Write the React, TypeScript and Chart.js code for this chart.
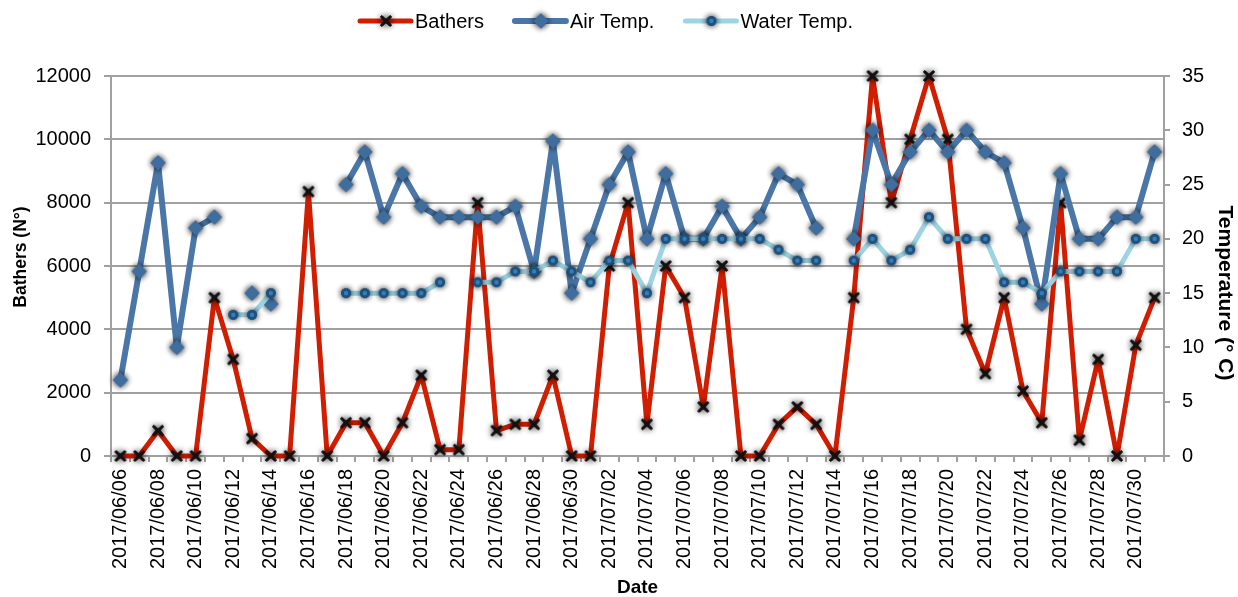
import React, { useEffect, useRef } from 'react';
import { Chart, registerables } from 'chart.js';

Chart.register(...registerables);

const dates = [
  '2017/06/06', '2017/06/07', '2017/06/08', '2017/06/09', '2017/06/10', '2017/06/11', '2017/06/12',
  '2017/06/13', '2017/06/14', '2017/06/15', '2017/06/16', '2017/06/17', '2017/06/18', '2017/06/19',
  '2017/06/20', '2017/06/21', '2017/06/22', '2017/06/23', '2017/06/24', '2017/06/25', '2017/06/26',
  '2017/06/27', '2017/06/28', '2017/06/29', '2017/06/30', '2017/07/01', '2017/07/02', '2017/07/03',
  '2017/07/04', '2017/07/05', '2017/07/06', '2017/07/07', '2017/07/08', '2017/07/09', '2017/07/10',
  '2017/07/11', '2017/07/12', '2017/07/13', '2017/07/14', '2017/07/15', '2017/07/16', '2017/07/17',
  '2017/07/18', '2017/07/19', '2017/07/20', '2017/07/21', '2017/07/22', '2017/07/23', '2017/07/24',
  '2017/07/25', '2017/07/26', '2017/07/27', '2017/07/28', '2017/07/29', '2017/07/30', '2017/07/31',
];

const bathers = [
  0, 0, 800, 0, 0, 5000, 3050, 550, 0, 0, 8350, 0, 1050, 1050,
  0, 1050, 2550, 200, 200, 8000, 800, 1000, 1000, 2550, 0, 0, 6000, 8000,
  1000, 6000, 5000, 1550, 6000, 0, 0, 1000, 1550, 1000, 0, 5000, 12000, 8000,
  10000, 12000, 10000, 4000, 2600, 5000, 2050, 1050, 8000, 500, 3050, 0, 3500, 5000,
];

const airTemp = [
  7, 17, 27, 10, 21, 22, null, 15, 14, null, null, null, 25, 28,
  22, 26, 23, 22, 22, 22, 22, 23, 17, 29, 15, 20, 25, 28,
  20, 26, 20, 20, 23, 20, 22, 26, 25, 21, null, 20, 30, 25,
  28, 30, 28, 30, 28, 27, 21, 14, 26, 20, 20, 22, 22, 28,
];
// air readings that are not joined to the next day's reading
const airUnlinkedFrom = [7];

const waterTemp = [
  null, null, null, null, null, null, 13, 13, 15, null, null, null, 15, 15,
  15, 15, 15, 16, null, 16, 16, 17, 17, 18, 17, 16, 18, 18,
  15, 20, 20, 20, 20, 20, 20, 19, 18, 18, null, 18, 20, 18,
  19, 22, 20, 20, 20, 16, 16, 15, 17, 17, 17, 17, 20, 20,
];

const bathersTicks = { min: 0, max: 12000, step: 2000 };
const tempTicks = { min: 0, max: 35, step: 5 };

const FONT = '"Liberation Sans", Arial, Helvetica, sans-serif';
const GRID = '#a0a0a0';
const RED = '#d11d00';
const AIR = '#4a77a8';
const WATER = '#9dd3e3';

function makeMarker(kind: 'cross' | 'diamond' | 'circle'): HTMLCanvasElement {
  const s = 28;
  const c = document.createElement('canvas');
  c.width = s;
  c.height = s;
  const g = c.getContext('2d')!;
  const m = s / 2;
  const paint = () => {
    if (kind === 'cross') {
      g.strokeStyle = '#111';
      g.lineWidth = 2.6;
      g.lineCap = 'round';
      g.beginPath();
      g.moveTo(m - 4.2, m - 4.2);
      g.lineTo(m + 4.2, m + 4.2);
      g.moveTo(m + 4.2, m - 4.2);
      g.lineTo(m - 4.2, m + 4.2);
      g.stroke();
    } else if (kind === 'diamond') {
      g.fillStyle = '#3f6d9e';
      g.beginPath();
      g.moveTo(m, m - 7.5);
      g.lineTo(m + 7.5, m);
      g.lineTo(m, m + 7.5);
      g.lineTo(m - 7.5, m);
      g.closePath();
      g.fill();
    } else {
      g.fillStyle = '#1c507f';
      g.beginPath();
      g.arc(m, m, 4.8, 0, Math.PI * 2);
      g.fill();
    }
  };
  g.shadowColor = 'rgba(0,0,0,0.6)';
  g.shadowBlur = 6;
  paint();
  paint();
  g.shadowBlur = 0;
  g.shadowColor = 'transparent';
  paint();
  if (kind === 'circle') {
    g.fillStyle = '#3a7fb4';
    g.beginPath();
    g.arc(m, m, 2.2, 0, Math.PI * 2);
    g.fill();
  }
  return c;
}

const legendPlugin = {
  id: 'lineLegend',
  afterDraw(chart: any) {
    const ctx = chart.ctx as CanvasRenderingContext2D;
    ctx.save();
    ctx.font = `20px ${FONT}`;
    let x = 360;
    const y = 21;
    chart.data.datasets.forEach((ds: any) => {
      ctx.strokeStyle = ds.borderColor;
      ctx.lineWidth = ds.borderWidth;
      ctx.lineCap = 'round';
      ctx.beginPath();
      ctx.moveTo(x, y);
      ctx.lineTo(x + 51, y);
      ctx.stroke();
      const img = ds.pointStyle as HTMLCanvasElement;
      ctx.drawImage(img, x + 26 - img.width / 2, y - img.height / 2);
      ctx.fillStyle = '#000';
      ctx.textAlign = 'left';
      ctx.textBaseline = 'middle';
      ctx.fillText(ds.label, x + 55, y + 1);
      x += 55 + ctx.measureText(ds.label).width + 31;
    });
    ctx.restore();
  },
};

const titlePlugin = {
  id: 'axisTitles',
  afterDraw(chart: any) {
    const ctx = chart.ctx as CanvasRenderingContext2D;
    const area = chart.chartArea;
    ctx.save();
    ctx.fillStyle = '#000';
    ctx.textAlign = 'center';
    ctx.textBaseline = 'middle';

    ctx.font = `bold 19px ${FONT}`;
    ctx.fillText('Date', (area.left + area.right) / 2, 588);

    ctx.save();
    ctx.translate(21, 257);
    ctx.rotate(-Math.PI / 2);
    ctx.font = `bold 17.5px ${FONT}`;
    ctx.fillText('Bathers (N°)', 0, 0);
    ctx.restore();

    ctx.save();
    ctx.translate(1225, 293);
    ctx.rotate(Math.PI / 2);
    ctx.font = `bold 21px ${FONT}`;
    ctx.fillText('Temperature (° C)', 0, 0);
    ctx.restore();

    ctx.restore();
  },
};

export default function App() {
  const ref = useRef<HTMLCanvasElement | null>(null);

  useEffect(() => {
    if (!ref.current) return;
    Chart.defaults.font.family = FONT;
    const crossImg = makeMarker('cross');
    const diamondImg = makeMarker('diamond');
    const circleImg = makeMarker('circle');

    const chart = new Chart(ref.current, {
      type: 'line',
      data: {
        labels: dates,
        datasets: [
          {
            label: 'Bathers',
            data: bathers,
            yAxisID: 'y',
            borderColor: RED,
            backgroundColor: RED,
            borderWidth: 5,
            pointStyle: crossImg as any,
            pointRadius: 5,
            tension: 0,
            clip: false as any,
            order: 3,
            borderJoinStyle: 'round',
            borderCapStyle: 'round',
          },
          {
            label: 'Air Temp.',
            data: airTemp,
            yAxisID: 'y1',
            borderColor: AIR,
            backgroundColor: AIR,
            borderWidth: 6,
            pointStyle: diamondImg as any,
            pointRadius: 5,
            tension: 0,
            spanGaps: false,
            clip: false as any,
            order: 2,
            borderJoinStyle: 'round',
            borderCapStyle: 'round',
            segment: {
              borderColor: (c: any) => (airUnlinkedFrom.includes(c.p0DataIndex) ? 'rgba(0,0,0,0)' : undefined),
            },
          },
          {
            label: 'Water Temp.',
            data: waterTemp,
            yAxisID: 'y1',
            borderColor: WATER,
            backgroundColor: WATER,
            borderWidth: 5,
            pointStyle: circleImg as any,
            pointRadius: 5,
            tension: 0,
            spanGaps: false,
            clip: false as any,
            order: 1,
            borderJoinStyle: 'round',
            borderCapStyle: 'round',
          },
        ],
      },
      options: {
        responsive: true,
        maintainAspectRatio: false,
        animation: false,
        layout: { padding: { top: 76, left: 0, right: 0, bottom: 0 } },
        plugins: {
          legend: { display: false },
          tooltip: { enabled: false },
        },
        scales: {
          x: {
            type: 'category',
            offset: true,
            grid: { display: true, drawOnChartArea: false, color: GRID, lineWidth: 2, tickLength: 6, offset: true },
            border: { display: true, color: GRID, width: 2 },
            ticks: {
              autoSkip: false,
              minRotation: 90,
              maxRotation: 90,
              padding: 7,
              color: '#000',
              font: { size: 20, family: FONT },
              callback: (_v: any, i: number) => (i % 2 === 0 ? dates[i] : ''),
            },
            title: { display: false },
            afterFit: (s: any) => {
              s.height = 141;
            },
          },
          y: {
            position: 'left',
            min: bathersTicks.min,
            max: bathersTicks.max,
            grid: { color: GRID, lineWidth: 2, tickLength: 7 },
            border: { display: true, color: GRID, width: 2 },
            ticks: {
              stepSize: bathersTicks.step,
              padding: 13,
              color: '#000',
              font: { size: 20, family: FONT },
              callback: (v: any) => String(v),
            },
            title: { display: false },
            afterFit: (s: any) => {
              s.width = 111;
            },
          },
          y1: {
            position: 'right',
            min: tempTicks.min,
            max: tempTicks.max,
            grid: { drawOnChartArea: false, color: GRID, lineWidth: 2, tickLength: 6 },
            border: { display: true, color: GRID, width: 2 },
            ticks: {
              stepSize: tempTicks.step,
              padding: 12,
              color: '#000',
              font: { size: 20, family: FONT },
            },
            title: { display: false },
            afterFit: (s: any) => {
              s.width = 74;
            },
          },
        },
      } as any,
      plugins: [legendPlugin, titlePlugin],
    });
    return () => chart.destroy();
  }, []);

  return (
    <div style={{ position: 'absolute', left: 0, top: 0, width: 1238, height: 597, background: '#fff' }}>
      <canvas ref={ref} />
    </div>
  );
}
